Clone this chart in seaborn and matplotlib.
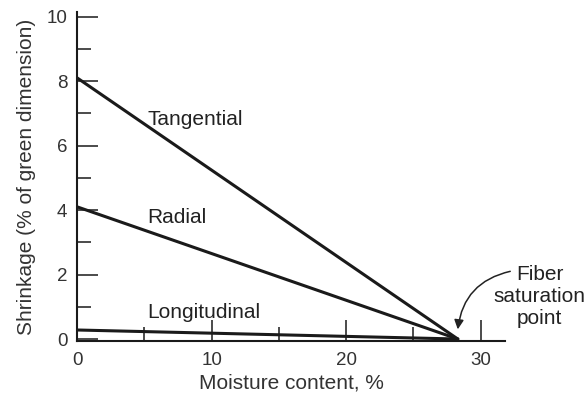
import numpy as np
import pandas as pd
import matplotlib.pyplot as plt
import seaborn as sns
from matplotlib.ticker import MultipleLocator

# endpoints of the three shrinkage lines (moisture %, shrinkage %)
moisture = [0, 28.3]
tangential = [8.1, 0.0]
radial = [4.1, 0.0]
longitudinal = [0.28, 0.0]

df = pd.DataFrame({
    'moisture': moisture * 3,
    'shrink': tangential + radial + longitudinal,
    'kind': ['Tangential'] * 2 + ['Radial'] * 2 + ['Longitudinal'] * 2,
})

sns.set_style('ticks')
plt.rcParams['font.family'] = ['Liberation Sans', 'DejaVu Sans']

fig = plt.figure(figsize=(5.85, 3.96), dpi=100)
ax = fig.add_axes([0.132, 0.139, 0.731, 0.831])

sns.lineplot(data=df, x='moisture', y='shrink', units='kind', estimator=None,
             color='#1a1a1a', linewidth=2.2, ax=ax, legend=False)

ax.set_xlim(0, 31.8)
ax.set_ylim(-0.06, 10.15)
ax.xaxis.set_major_locator(MultipleLocator(10))
ax.xaxis.set_minor_locator(MultipleLocator(5))
ax.yaxis.set_major_locator(MultipleLocator(2))
ax.yaxis.set_minor_locator(MultipleLocator(1))
ax.tick_params(which='major', direction='in', length=15, width=1.1,
               color='#1a1a1a', labelsize=13.5, labelcolor='#333333')
ax.tick_params(which='minor', direction='in', length=10, width=1.1,
               color='#1a1a1a')
ax.tick_params(axis='x', which='major', pad=8)
ax.tick_params(axis='y', which='major', pad=7)
for s in ['top', 'right']:
    ax.spines[s].set_visible(False)
for s in ['left', 'bottom']:
    ax.spines[s].set_linewidth(1.5)
    ax.spines[s].set_color('#1a1a1a')

ax.set_xlabel('Moisture content, %', fontsize=15, color='#333333', labelpad=3)
ax.set_ylabel('Shrinkage (% of green dimension)', fontsize=15, color='#333333', labelpad=8)

lbl = dict(fontsize=15, color='#222222', ha='left', va='baseline')
ax.text(5.2, 6.65, 'Tangential', **lbl)
ax.text(5.2, 3.6, 'Radial', **lbl)
ax.text(5.2, 0.65, 'Longitudinal', **lbl)

ax.text(34.4, 1.33, 'Fiber\nsaturation\npoint', fontsize=15, color='#222222',
        ha='center', va='center', linespacing=1.2, clip_on=False)
ax.annotate('', xy=(28.3, 0.3), xytext=(32.2, 2.1), annotation_clip=False,
            arrowprops=dict(arrowstyle='-|>', color='#222222', lw=1.1,
                            shrinkA=0, shrinkB=0, mutation_scale=14,
                            connectionstyle='arc3,rad=0.35'))

fig.savefig('out.png', dpi=100)
